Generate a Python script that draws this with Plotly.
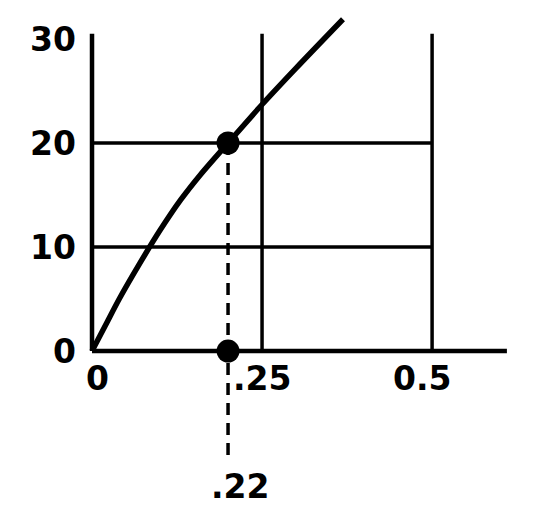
import plotly.graph_objects as go

# curve
curve_x = [0, 0.02, 0.04, 0.07, 0.1, 0.13, 0.16, 0.2, 0.25, 0.3, 0.369]
curve_y = [0, 2.5, 5.0, 8.4, 11.6, 14.5, 17.0, 20, 23.7, 27.2, 31.9]

# marked point and its label
mark_x = 0.2
mark_y = 20
mark_label = ".22"
dash_bottom = -10.6

# grid and axes
x_grid = [0.25, 0.5]
y_grid = [10, 20]
y_top = 30.5
x_end = 0.61
x_ticks = [0, 0.25, 0.5]
x_ticktext = ["0", ".25", "0.5"]
y_ticks = [0, 10, 20, 30]
y_ticktext = ["0", "10", "20", "30"]

FONT = dict(family="DejaVu Sans, Liberation Sans, sans-serif", size=33,
            color="black", weight="bold")

fig = go.Figure()

def add_line(xs, ys, width, dash=None):
    fig.add_trace(go.Scatter(x=xs, y=ys, mode="lines",
                             line=dict(color="black", width=width, dash=dash),
                             hoverinfo="skip", showlegend=False))

# axis lines
add_line([0, 0], [0, y_top], 4.5)
add_line([0, x_end], [0, 0], 4.5)

# grid lines
for gx in x_grid:
    add_line([gx, gx], [0, y_top], 3.5)
for gy in y_grid:
    add_line([0, x_grid[-1]], [gy, gy], 3.5)

# dashed drop line
add_line([mark_x, mark_x], [mark_y, dash_bottom], 3.5, dash="12px,8px")

# curve
fig.add_trace(go.Scatter(x=curve_x, y=curve_y, mode="lines",
                         line=dict(color="black", width=5.5, shape="spline", smoothing=0.8),
                         hoverinfo="skip", showlegend=False))

# dots
fig.add_trace(go.Scatter(x=[mark_x, mark_x], y=[mark_y, 0], mode="markers",
                         marker=dict(color="black", size=23),
                         cliponaxis=False, hoverinfo="skip", showlegend=False))

# x tick labels as annotations under the axis
shifts = [5, 0, -10]
for tx, tt, sh in zip(x_ticks, x_ticktext, shifts):
    fig.add_annotation(x=tx, y=0, text=tt, showarrow=False, font=FONT,
                       xanchor="center", yanchor="middle", xshift=sh, yshift=-27)

fig.add_annotation(x=mark_x, y=dash_bottom, text=mark_label, showarrow=False, font=FONT,
                   xanchor="center", yanchor="middle", xshift=12, yshift=-25)

fig.update_layout(
    width=560, height=522,
    margin=dict(l=77, r=40, t=0, b=52),
    plot_bgcolor="white", paper_bgcolor="white",
    font=FONT,
    xaxis=dict(range=[-0.0103, 0.641], visible=False, fixedrange=True),
    yaxis=dict(range=[-12.21, 32.98], tickvals=y_ticks, ticktext=y_ticktext,
               showgrid=False, zeroline=False, showline=False, ticks="",
               ticklabelstandoff=8, tickfont=FONT, fixedrange=True),
)

fig.write_html("out.html")
